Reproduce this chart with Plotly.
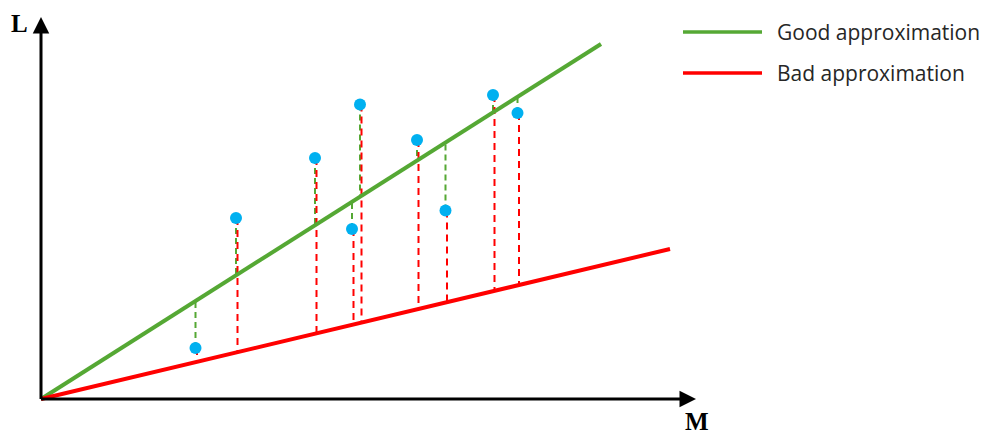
"""
Least-squares intuition sketch: a good and a bad linear fit of L against M,
with the vertical residuals of each point drawn as dashed lines.
"""

import plotly.graph_objects as go

# sample points (M, L)
M_POINTS = [154.5, 195, 274, 311, 319, 376, 404.5, 452, 476.5]
L_POINTS = [51, 181, 241, 170, 294.5, 259, 188.5, 304, 286]

# the two candidate lines, as endpoints
GOOD_M = [0, 560]
GOOD_L = [0, 355]
BAD_M = [0, 629]
BAD_L = [0, 150]

LEGEND_LABELS = ["Good approximation", "Bad approximation"]

GREEN = "#55A834"
RED = "#FF0000"
BLUE = "#00B0F0"
DASH_SHIFT = 1.5  # nudge red residuals so both dash sets stay visible

# the page body adds an 8px margin, so the figure is sized to fit inside it
PAGE_PAD = 8
W, H = 1000 - PAGE_PAD, 444 - PAGE_PAD


def line_at(m, ms, ls):
    slope = (ls[1] - ls[0]) / (ms[1] - ms[0])
    return ls[0] + slope * (m - ms[0])


def residual_path(ms, ls, fit_m, fit_l, shift=0.0):
    xs, ys = [], []
    for m, l in zip(ms, ls):
        xs += [m + shift, m + shift, None]
        ys += [l, line_at(m, fit_m, fit_l), None]
    return xs, ys


def px(page_x):
    return (page_x - PAGE_PAD) / W


def py(page_y):
    return 1 - (page_y - PAGE_PAD) / H


fig = go.Figure()

gx, gy = residual_path(M_POINTS, L_POINTS, GOOD_M, GOOD_L)
fig.add_trace(go.Scatter(
    x=gx, y=gy, mode="lines",
    line=dict(color=GREEN, width=2, dash="6px,4px"),
    hoverinfo="skip", showlegend=False,
))
rx, ry = residual_path(M_POINTS, L_POINTS, BAD_M, BAD_L, DASH_SHIFT)
fig.add_trace(go.Scatter(
    x=rx, y=ry, mode="lines",
    line=dict(color=RED, width=2, dash="7px,5px"),
    hoverinfo="skip", showlegend=False,
))

fig.add_trace(go.Scatter(
    x=GOOD_M, y=GOOD_L, mode="lines",
    line=dict(color=GREEN, width=4), name=LEGEND_LABELS[0], showlegend=False,
))
fig.add_trace(go.Scatter(
    x=BAD_M, y=BAD_L, mode="lines",
    line=dict(color=RED, width=4), name=LEGEND_LABELS[1], showlegend=False,
))

fig.add_trace(go.Scatter(
    x=M_POINTS, y=L_POINTS, mode="markers",
    marker=dict(color=BLUE, size=12, line=dict(width=0)),
    showlegend=False,
))

# axes drawn as arrows, origin at (0, 0)
fig.add_annotation(x=0, y=382, ax=0, ay=-1.5, xref="x", yref="y",
                   axref="x", ayref="y", showarrow=True, arrowhead=2,
                   arrowsize=1.1, arrowwidth=3, arrowcolor="black", text="")
fig.add_annotation(x=655, y=0, ax=-1.5, ay=0, xref="x", yref="y",
                   axref="x", ayref="y", showarrow=True, arrowhead=2,
                   arrowsize=1.1, arrowwidth=3, arrowcolor="black", text="")

serif = dict(family="Liberation Serif", size=25, color="black")
fig.add_annotation(x=-22, y=376, text="<b>L</b>", showarrow=False, font=serif)
fig.add_annotation(x=656, y=-22, text="<b>M</b>", showarrow=False, font=serif)

# hand-drawn legend with long line samples
for i, (label, col) in enumerate(zip(LEGEND_LABELS, [GREEN, RED])):
    yy = py(32 + 41 * i)
    fig.add_shape(type="line", xref="paper", yref="paper",
                  x0=px(683), x1=px(762), y0=yy, y1=yy,
                  line=dict(color=col, width=3.5))
    fig.add_annotation(xref="paper", yref="paper", x=px(775), y=yy,
                       xanchor="left", yanchor="middle", text=label,
                       showarrow=False,
                       font=dict(family="Open Sans", size=21, color="#262626"))

fig.update_xaxes(range=[-41 + PAGE_PAD, -41 + PAGE_PAD + W],
                 visible=False, fixedrange=True)
fig.update_yaxes(range=[399 - PAGE_PAD - H, 399 - PAGE_PAD],
                 visible=False, fixedrange=True)
fig.update_layout(
    width=W, height=H,
    margin=dict(l=0, r=0, t=0, b=0),
    plot_bgcolor="white", paper_bgcolor="white",
    showlegend=False,
)

fig.write_html("out.html")
